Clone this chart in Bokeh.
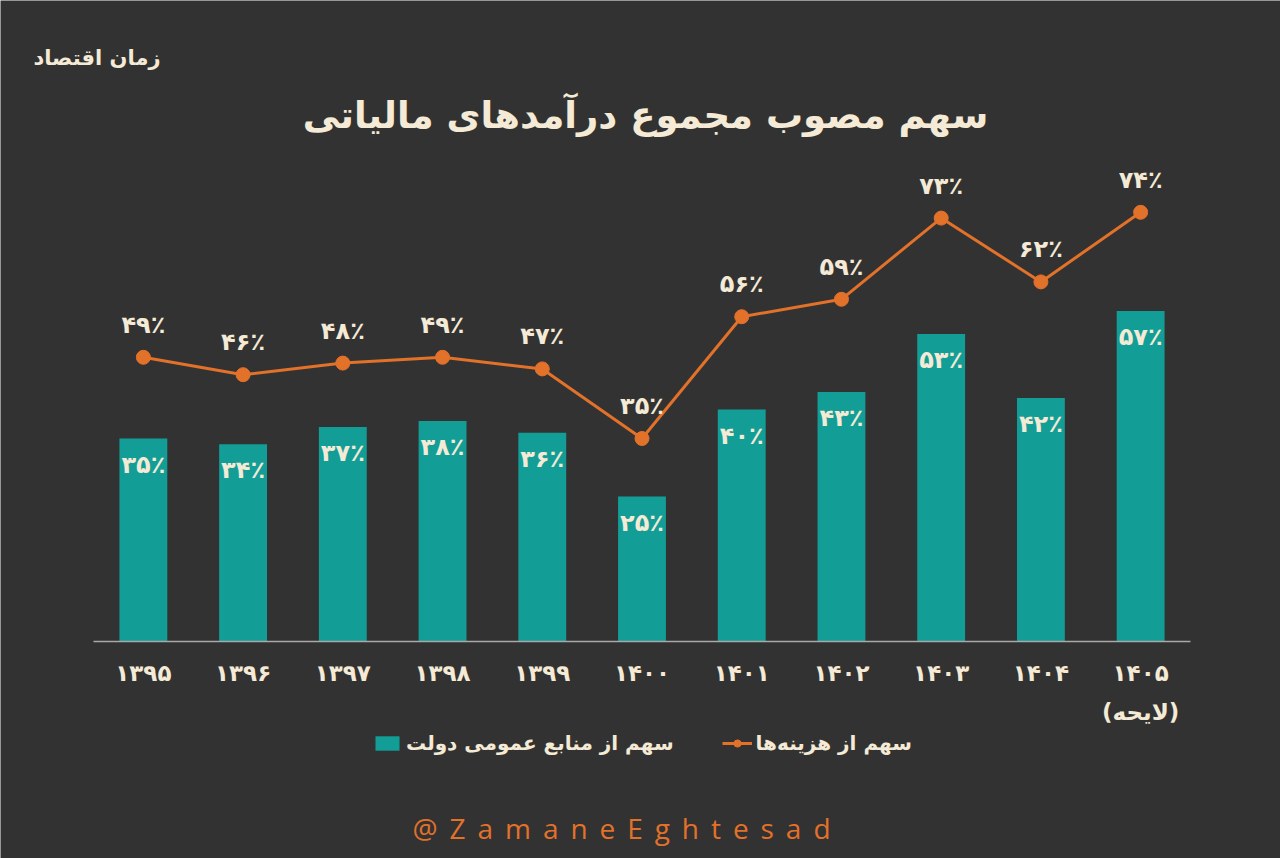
from bokeh.plotting import figure
from bokeh.models import ColumnDataSource, Range1d, Legend, LegendItem, Label
from bokeh.core.properties import value
from bokeh.embed import file_html
from bokeh.resources import INLINE

# ---- data ----
years = ["۱۳۹۵", "۱۳۹۶", "۱۳۹۷", "۱۳۹۸", "۱۳۹۹", "۱۴۰۰",
         "۱۴۰۱", "۱۴۰۲", "۱۴۰۳", "۱۴۰۴", "۱۴۰۵\n(لایحه)"]
share_public = [35, 34, 37, 38, 36, 25, 40, 43, 53, 42, 57]     # سهم از منابع عمومی دولت
share_expense = [49, 46, 48, 49, 47, 35, 56, 59, 73, 62, 74]    # سهم از هزینه‌ها

title_text = "سهم مصوب مجموع درآمدهای مالیاتی"
legend_public = "سهم از منابع عمومی دولت"
legend_expense = "سهم از هزینه‌ها"
brand_text = "زمان اقتصاد"
handle_text = " \u2006".join("@ZamaneEghtesad")

# ---- style ----
BG = "#323232"
TEAL = "#129e97"
ORANGE = "#e2712a"
CREAM = "#f4ead6"
AXIS = "#a9a9a9"
FONT = "DejaVu Sans"

W, H = 1280, 858
LEFT_PX, RIGHT_PX, BASE_PX = 93, 1190, 641
n = len(years)
ux = (RIGHT_PX - LEFT_PX) / n      # px per category
uy = 5.8                            # px per percent

XS = -0.5 - LEFT_PX / ux
XE = XS + W / ux
YS = -(H - BASE_PX) / uy
YE = BASE_PX / uy


def dx(px):
    return XS + px / ux


def dy(py):
    return (BASE_PX - py) / uy


FA = str.maketrans("0123456789", "۰۱۲۳۴۵۶۷۸۹")


def fa_pct(v):
    return str(v).translate(FA) + "٪"


idx = list(range(n))
src = ColumnDataSource(dict(
    x=idx,
    pub=share_public,
    exp=share_expense,
    pub_lbl=[fa_pct(v) for v in share_public],
    exp_lbl=[fa_pct(v) for v in share_expense],
    pub_lbl_y=[v - 4.5 for v in share_public],
    exp_lbl_y=[v + 5.6 for v in share_expense],
    year=years,
    year_y=[dy(659)] * n,
))

p = figure(width=W, height=H, output_backend="svg", toolbar_location=None,
           x_range=Range1d(XS, XE), y_range=Range1d(YS, YE),
           min_border=0, min_border_left=0, min_border_right=0,
           min_border_top=0, min_border_bottom=0)
p.axis.visible = False
p.grid.visible = False
p.outline_line_color = None
p.background_fill_color = BG
p.border_fill_color = BG

bars = p.vbar(x="x", top="pub", bottom=0, width=0.48, source=src,
              fill_color=TEAL, line_color=None)

# baseline (x axis line)
p.segment(x0=[min(idx) - 0.5], x1=[max(idx) + 0.5], y0=[0], y1=[0],
          line_color=AXIS, line_width=1.5)

line = p.line(x="x", y="exp", source=src, line_color=ORANGE, line_width=3)
dots = p.scatter(x="x", y="exp", source=src, size=14, marker="circle",
                 fill_color=ORANGE, line_color=ORANGE)

p.text(x="x", y="pub_lbl_y", text="pub_lbl", source=src,
       text_align="center", text_baseline="middle",
       text_font=value(FONT), text_font_style="bold",
       text_font_size="24px", text_color=CREAM)

p.text(x="x", y="exp_lbl_y", text="exp_lbl", source=src,
       text_align="center", text_baseline="middle",
       text_font=value(FONT), text_font_style="bold",
       text_font_size="24px", text_color=CREAM)

p.text(x="x", y="year_y", text="year", source=src,
       text_align="center", text_baseline="top", text_line_height=1.5,
       text_font=value(FONT), text_font_style="bold",
       text_font_size="23px", text_color=CREAM)

p.add_layout(Label(x=dx(645), y=dy(115), text=title_text,
                   text_align="center", text_baseline="middle",
                   text_font=FONT, text_font_style="bold",
                   text_font_size="37px", text_color=CREAM))

p.add_layout(Label(x=dx(160), y=dy(57), text=brand_text,
                   text_align="right", text_baseline="middle",
                   text_font=FONT, text_font_style="bold",
                   text_font_size="21px", text_color=CREAM))

p.add_layout(Label(x=dx(621), y=dy(827), text=handle_text,
                   text_align="center", text_baseline="middle",
                   text_font="Open Sans", text_font_size="28px",
                   text_color=ORANGE))

legend = Legend(items=[
    LegendItem(label=legend_public, renderers=[bars]),
    LegendItem(label=legend_expense, renderers=[line, dots]),
], orientation="horizontal", location=(372, 103),
    background_fill_alpha=0, border_line_color=None,
    label_text_color=CREAM, label_text_font=FONT,
    label_text_font_style="bold", label_text_font_size="20px",
    glyph_width=30, glyph_height=18, label_height=24,
    spacing=48, padding=0, margin=0, label_standoff=4)
p.add_layout(legend)

open("out.html", "w").write(file_html(p, INLINE))
